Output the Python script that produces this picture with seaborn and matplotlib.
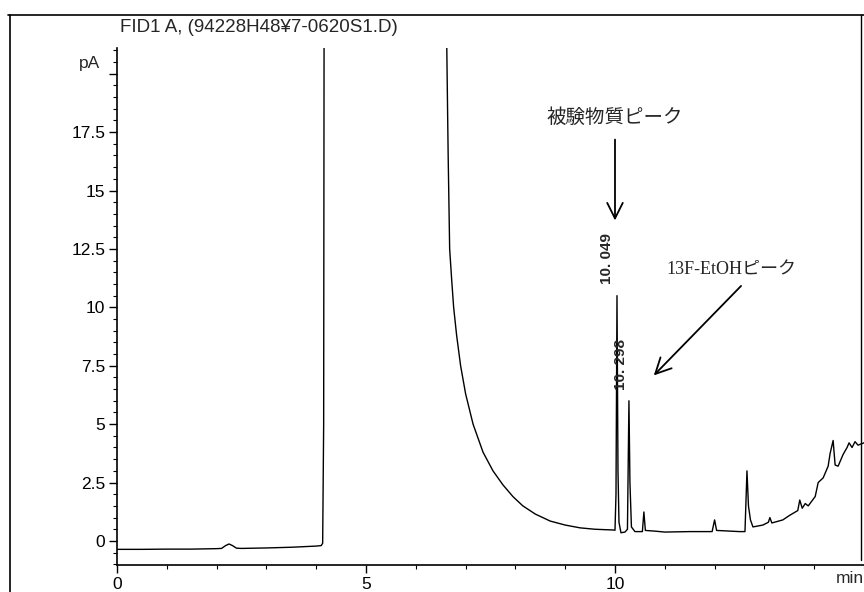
import numpy as np
import pandas as pd
import matplotlib
matplotlib.use("Agg")
import matplotlib.pyplot as plt
from matplotlib.lines import Line2D
import seaborn as sns

# FID1 A trace (min, pA)
time_min = [
    0.0, 0.5, 1.0, 1.5, 2.0, 2.1, 2.18, 2.25, 2.32, 2.4, 2.5, 3.0, 3.5, 4.0, 4.1, 4.13, 4.15, 4.16,
    6.60, 6.62, 6.65, 6.68, 6.72, 6.76, 6.82, 6.90, 7.00, 7.15, 7.35, 7.55, 7.75, 7.95, 8.15,
    8.40, 8.70, 9.00, 9.30, 9.60, 9.95, 10.00, 10.02, 10.04, 10.06, 10.08, 10.12, 10.20, 10.25,
    10.28, 10.30, 10.33, 10.40, 10.55, 10.58, 10.61, 10.80, 11.00, 11.50, 11.95, 12.00, 12.04,
    12.50, 12.61, 12.65, 12.68, 12.72, 12.77, 12.97, 13.08, 13.11, 13.15, 13.37, 13.51, 13.67,
    13.71, 13.76, 13.82, 13.88, 14.02, 14.08, 14.18, 14.28, 14.32, 14.38, 14.42, 14.48, 14.58,
    14.66, 14.70, 14.76, 14.82, 14.88, 15.0,
]
signal_pa = [
    -0.36, -0.36, -0.35, -0.35, -0.33, -0.32, -0.2, -0.13, -0.2, -0.31, -0.32, -0.3, -0.27, -0.22, -0.2, -0.1, 5.0, 25.0,
    25.0, 21.5, 16.5, 12.5, 11.2, 10.0, 8.8, 7.5, 6.3, 5.0, 3.8, 3.0, 2.4, 1.9, 1.5,
    1.15, 0.85, 0.68, 0.56, 0.5, 0.47, 0.46, 2.0, 10.5, 3.0, 0.8, 0.35, 0.38, 0.5,
    6.0, 2.5, 0.6, 0.4, 0.4, 1.24, 0.45, 0.42, 0.38, 0.4, 0.4, 0.9, 0.45,
    0.4, 0.4, 3.0, 1.5, 0.9, 0.6, 0.68, 0.8, 1.0, 0.77, 0.9, 1.1, 1.3,
    1.75, 1.4, 1.6, 1.5, 1.9, 2.5, 2.7, 3.2, 3.75, 4.3, 3.25, 3.2, 3.7,
    4.0, 4.2, 4.0, 4.25, 4.1, 4.2,
]

peak_times = ["10. 049", "10. 298"]
ytick_vals = [0, 2.5, 5, 7.5, 10, 12.5, 15, 17.5, 20]
ytick_text = ["0", "2.5", "5", "7.5", "10", "12.5", "15", "17.5", ""]
xtick_vals = [0, 5, 10]

df = pd.DataFrame({"time": time_min, "pA": signal_pa})

sns.set_theme(style="ticks")
plt.rcParams["font.family"] = ["Liberation Sans", "Noto Sans CJK JP", "DejaVu Sans"]

fig = plt.figure(figsize=(8.64, 5.92), dpi=100)
ax = fig.add_axes([0.1354, 0.0456, 0.8646, 0.8733])

sns.lineplot(data=df, x="time", y="pA", ax=ax, color="black", lw=1.0,
             estimator=None, sort=False)

ax.set_xlim(0, 15.0)
ax.set_ylim(-1.03, 21.1)
ax.set_xlabel("")
ax.set_ylabel("")
sns.despine(ax=ax)
for s in ("left", "bottom"):
    ax.spines[s].set_linewidth(1.2)
    ax.spines[s].set_color("black")

ax.set_xticks(xtick_vals)
ax.set_xticks(np.arange(0, 16, 1), minor=True)
ax.set_yticks(ytick_vals)
ax.set_yticklabels(ytick_text)
ax.set_yticks(np.arange(-1, 21.1, 0.5), minor=True)
ax.tick_params(which="major", direction="out", length=6, width=1.0, labelsize=12.5,
               color="black", labelcolor="black", pad=2.5)
ax.tick_params(which="minor", direction="out", length=3, width=0.8, color="black")

ax.text(-0.022, 20.45, "pA", transform=ax.get_yaxis_transform(), ha="right",
        va="center", fontsize=12.5)
ax.text(15.0, -0.027, "min", transform=ax.get_xaxis_transform(), ha="right",
        va="center", fontsize=12.5)

fig.text(120 / 864, 1 - 27 / 592, "FID1 A, (94228H48¥7-0620S1.D)", ha="left",
         va="center", fontsize=13.5)

# retention time labels
ax.text(9.84, 11.0, peak_times[0], rotation=90, ha="center", va="bottom",
        fontsize=11, fontweight="bold")
ax.text(10.12, 6.45, peak_times[1], rotation=90, ha="center", va="bottom",
        fontsize=11, fontweight="bold")

jp_font = ["Liberation Serif", "Noto Sans CJK JP"]
ax.annotate("", xy=(10.0, 13.6), xytext=(10.0, 17.3),
            arrowprops=dict(arrowstyle="->", lw=1.3, color="black", mutation_scale=28))
ax.text(10.0, 18.1, "被験物質ピーク", ha="center", va="center", fontsize=14,
        family=jp_font)
ax.annotate("", xy=(10.74, 7.0), xytext=(12.57, 11.0),
            arrowprops=dict(arrowstyle="->", lw=1.3, color="black", mutation_scale=28))
ax.text(12.33, 11.58, "13F-EtOHピーク", ha="center", va="center", fontsize=13,
        family=jp_font)

# border of the scanned page
fig.add_artist(Line2D([8 / 864, 1.0], [1 - 15 / 592] * 2, transform=fig.transFigure,
                      color="black", lw=1.2))
fig.add_artist(Line2D([10 / 864] * 2, [1 - 15 / 592, 0], transform=fig.transFigure,
                      color="black", lw=1.2))
fig.add_artist(Line2D([861 / 864] * 2, [1 - 15 / 592, 1 - 560 / 592],
                      transform=fig.transFigure, color="black", lw=1.0))

fig.savefig("out.png", dpi=100)
